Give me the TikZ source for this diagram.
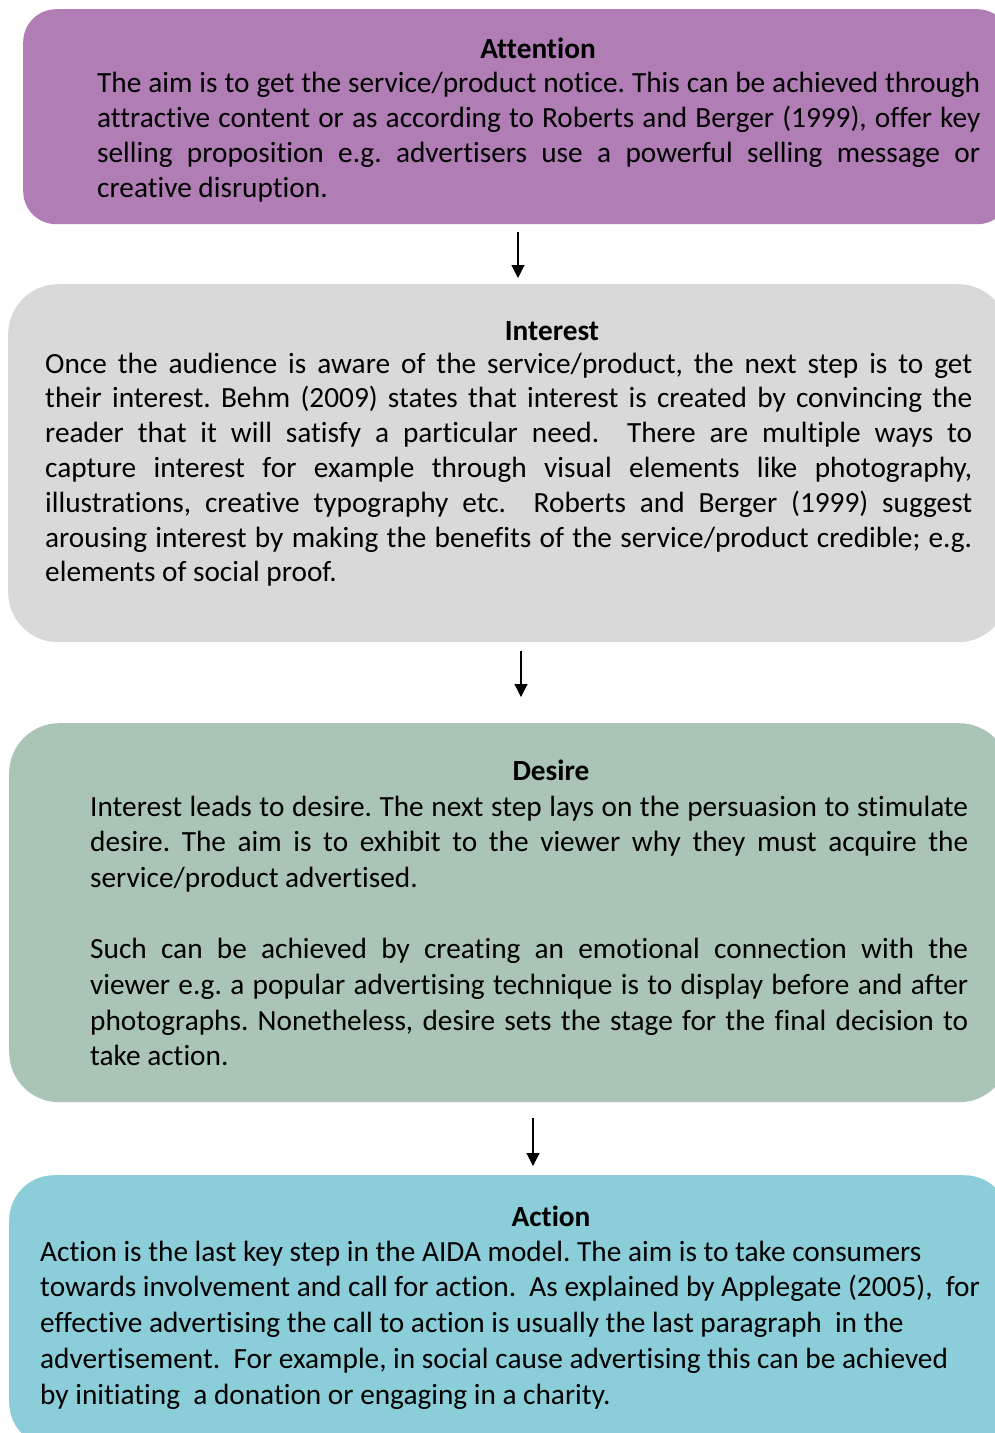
\documentclass[tikz,border=0pt]{standalone}
\usepackage{fontspec}
\setmainfont[Ligatures=NoCommon]{Carlito}
\usetikzlibrary{arrows.meta}
\definecolor{attfill}{RGB}{176,125,181}
\definecolor{intfill}{RGB}{217,217,217}
\definecolor{desfill}{RGB}{170,196,182}
\definecolor{actfill}{RGB}{139,205,216}
\tikzset{
  stagebox/.style={draw=none, rectangle, anchor=north west, inner sep=0pt},
  bodytext/.style={anchor=base west, inner sep=0pt, align=left},
  headtext/.style={anchor=base, inner sep=0pt, font=\bfseries},
  arr/.style={-{Triangle[width=13pt,length=13pt]}, line width=1.1pt, black},
}
\newcommand{\bodyfont}[1]{\fontsize{29.3}{#1}\selectfont\frenchspacing}
\newcommand{\headfont}{\fontsize{29.3}{35}\selectfont\bfseries}
\begin{document}
\begin{tikzpicture}[x=1pt,y=-1pt]
\useasboundingbox (0,0) rectangle (995,1433);
\clip (0,0) rectangle (995,1433);
\fill[white] (0,0) rectangle (995,1433);

% the four stage boxes
\node[stagebox, fill=attfill, rounded corners=33pt, minimum width=987pt, minimum height=215pt] (att) at (23,9) {};
\node[stagebox, fill=intfill, rounded corners=50pt, minimum width=1000pt, minimum height=358pt] (int) at (8,284) {};
\node[stagebox, fill=desfill, rounded corners=50pt, minimum width=1000pt, minimum height=379pt] (des) at (9,723) {};
\node[stagebox, fill=actfill, rounded corners=45pt, minimum width=1000pt, minimum height=272pt] (act) at (9,1175) {};

% Attention
\node[headtext] (atth) at (538,58) {\headfont Attention};
\node[bodytext] (attb) at (97,92) {\parbox[t]{883pt}{\bodyfont{35}
The aim is to get the service/product notice. This can be achieved through\linebreak
attractive content or as according to Roberts and Berger (1999), offer key\linebreak
selling proposition e.g. advertisers use a powerful selling message or\linebreak
creative disruption.}};

% Interest
\node[headtext] (inth) at (552,340) {\headfont Interest};
\node[bodytext] (intb) at (45,373) {\parbox[t]{927pt}{\bodyfont{34.8}
Once the audience is aware of the service/product, the next step is to get\linebreak
their interest. Behm (2009) states that interest is created by convincing the\linebreak
reader that it will satisfy a particular need.\ \ There are multiple ways to\linebreak
capture interest for example through visual elements like photography,\linebreak
illustrations, creative typography etc.\ \ Roberts and Berger (1999) suggest\linebreak
arousing interest by making the benefits of the service/product credible; e.g.\linebreak
elements of social proof.}};

% Desire
\node[headtext] (desh) at (551,780) {\headfont Desire};
\node[bodytext] (desb) at (90,816) {\parbox[t]{878pt}{\bodyfont{35.7}
Interest leads to desire. The next step lays on the persuasion to stimulate\linebreak
desire. The aim is to exhibit to the viewer why they must acquire the\linebreak
service/product advertised.\par\vspace{35.7pt}
Such can be achieved by creating an emotional connection with the\linebreak
viewer e.g. a popular advertising technique is to display before and after\linebreak
photographs. Nonetheless, desire sets the stage for the final decision to\linebreak
take action.}};

% Action
\node[headtext] (acth) at (551,1226) {\headfont Action};
\node[bodytext] (actb) at (40,1261) {\parbox[t]{950pt}{\raggedright\bodyfont{35.75}
Action is the last key step in the AIDA model. The aim is to take consumers\\
towards involvement and call for action.\ \ As explained by Applegate (2005),\ \ for\\
effective advertising the call to action is usually the last paragraph\ \ in the\\
advertisement.\ \ For example, in social cause advertising this can be achieved\\
by initiating\ \ a donation or engaging in a charity.}};

% connectors between stages
\coordinate (c1) at (518,0);
\coordinate (c2) at (521,0);
\coordinate (c3) at (533,0);
\draw[arr, shorten <=8pt, shorten >=6pt] (att.south -| c1) -- (int.north -| c1);
\draw[arr, shorten <=9pt, shorten >=26pt] (int.south -| c2) -- (des.north -| c2);
\draw[arr, shorten <=16pt, shorten >=9pt] (des.south -| c3) -- (act.north -| c3);
\end{tikzpicture}
\end{document}
